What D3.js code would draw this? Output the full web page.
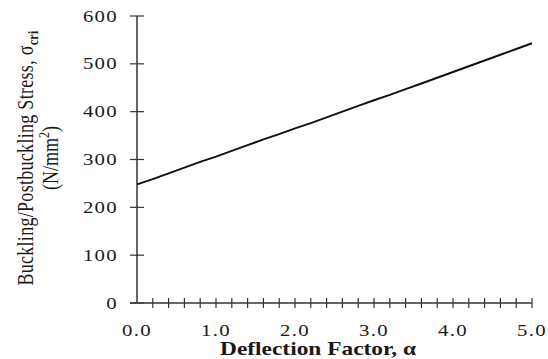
<!DOCTYPE html>
<html>
<head>
<meta charset="utf-8">
<script src="https://cdn.jsdelivr.net/npm/d3@7"></script>
<style>
  body { margin: 0; background: #fff; }
  text { font-family: "Liberation Serif", "Times New Roman", serif; fill: #1a1a1a; }
</style>
</head>
<body>
<div id="chart"></div>
<script>
// deflection factor (alpha) and stress values
const alpha = [0.0, 0.2, 0.4, 0.6, 0.8, 1.0, 1.2, 1.4, 1.6, 1.8, 2.0, 2.2, 2.4,
               2.6, 2.8, 3.0, 3.2, 3.4, 3.6, 3.8, 4.0, 4.2, 4.4, 4.6, 4.8, 5.0];
const stress = [248, 259, 271, 283, 295, 306, 318, 330, 342, 353, 365, 376, 388,
                400, 412, 424, 435, 447, 459, 471, 483, 495, 507, 519, 531, 543];
const xTickLabels = [0, 1, 2, 3, 4, 5];
const yTickLabels = [0, 100, 200, 300, 400, 500, 600];

const width = 548, height = 359;
const margin = { left: 137, right: 16, top: 16, bottom: 56 };
// the original figure looks stretched sideways, so text is widened a bit
const stretch = 1.3;

const svg = d3.select("#chart").append("svg")
  .attr("width", width)
  .attr("height", height);

const x = d3.scaleLinear().domain([0, 5]).range([margin.left, width - margin.right]);
const y = d3.scaleLinear().domain([0, 600]).range([height - margin.bottom, margin.top]);

// x axis with minor ticks every 0.2, crossing the axis line
const xAxis = svg.append("g").attr("transform", "translate(0," + y(0) + ")");
xAxis.append("line")
  .attr("x1", x(0) - 7).attr("x2", x(5))
  .attr("stroke", "#333").attr("stroke-width", 1.5);
xAxis.selectAll("line.tick")
  .data(alpha.slice(1))
  .enter().append("line")
  .attr("class", "tick")
  .attr("x1", d => x(d)).attr("x2", d => x(d))
  .attr("y1", -5).attr("y2", 5)
  .attr("stroke", "#333").attr("stroke-width", 1.2);
xAxis.selectAll("text")
  .data(xTickLabels)
  .enter().append("text")
  .attr("transform", d => "translate(" + x(d) + ",33) scale(" + stretch + ",1)")
  .attr("text-anchor", "middle")
  .style("font-size", "16px")
  .style("letter-spacing", "1px")
  .text(d => d.toFixed(1));

// y axis
const yAxis = svg.append("g").attr("transform", "translate(" + x(0) + ",0)");
yAxis.append("line")
  .attr("y1", y(0)).attr("y2", y(600))
  .attr("stroke", "#333").attr("stroke-width", 1.5);
yAxis.selectAll("line.tick")
  .data(yTickLabels)
  .enter().append("line")
  .attr("class", "tick")
  .attr("x1", -7).attr("x2", 7)
  .attr("y1", d => y(d)).attr("y2", d => y(d))
  .attr("stroke", "#333").attr("stroke-width", 1.2);
yAxis.selectAll("text")
  .data(yTickLabels)
  .enter().append("text")
  .attr("transform", d => "translate(-19," + y(d) + ") scale(" + stretch + ",1)")
  .attr("dy", "0.35em")
  .attr("text-anchor", "end")
  .style("font-size", "16px")
  .style("letter-spacing", "1px")
  .text(d => d);

// the curve
const line = d3.line()
  .x((d, i) => x(alpha[i]))
  .y(d => y(d));
svg.append("path")
  .datum(stress)
  .attr("d", line)
  .attr("fill", "none")
  .attr("stroke", "#111")
  .attr("stroke-width", 2);

// axis titles
svg.append("text")
  .attr("transform", "translate(318,355) scale(" + stretch + ",1)")
  .attr("text-anchor", "middle")
  .style("font-size", "18px")
  .style("font-weight", "bold")
  .text("Deflection Factor, α");

const yTitle = svg.append("text")
  .attr("transform", "translate(33,158) scale(" + stretch + ",1) rotate(-90)")
  .attr("text-anchor", "middle")
  .style("font-size", "18px")
  .style("letter-spacing", "0.3px");
yTitle.append("tspan").text("Buckling/Postbuckling Stress, σ");
yTitle.append("tspan").attr("dy", 4).style("font-size", "12px").style("font-weight", "bold").text("cri");

const yTitle2 = svg.append("text")
  .attr("transform", "translate(58,158) scale(" + stretch + ",1) rotate(-90)")
  .attr("text-anchor", "middle")
  .style("font-size", "18px");
yTitle2.append("tspan").text("(N/mm");
yTitle2.append("tspan").attr("dy", -7).style("font-size", "12px").text("2");
yTitle2.append("tspan").attr("dy", 7).text(")");
</script>
</body>
</html>
